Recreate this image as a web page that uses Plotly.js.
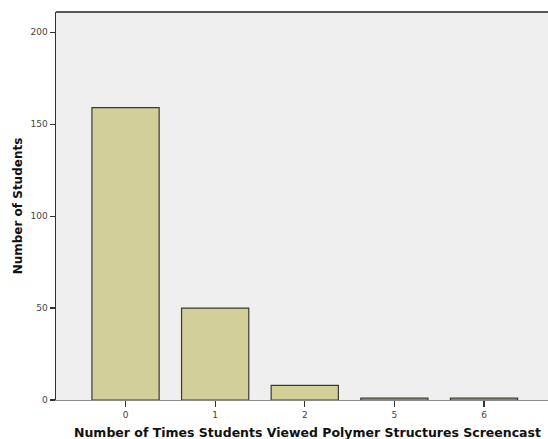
<!DOCTYPE html>
<html>
<head>
<meta charset="utf-8">
<script src="https://cdn.plot.ly/plotly-3.0.1.min.js"></script>
<style>html,body{margin:0;padding:0;background:#fff;}#chart{width:548px;height:439px;}</style>
</head>
<body>
<div id="chart"></div>
<script>
const categories = ["0", "1", "2", "5", "6"];
const counts = [159, 50, 8, 1, 1];
const yTicks = [0, 50, 100, 150, 200];
const xTitle = "Number of Times Students Viewed Polymer Structures Screencast";
const yTitle = "Number of Students";

const trace = {
  type: "bar",
  x: categories,
  y: counts,
  marker: {color: "#d3cf98", line: {color: "#3a3a3a", width: 1.2}},
  hoverinfo: "x+y"
};

const layout = {
  width: 548, height: 439,
  margin: {l: 56, r: 0, t: 12, b: 39, pad: 0},
  paper_bgcolor: "#ffffff",
  plot_bgcolor: "#efefef",
  bargap: 0.25,
  showlegend: false,
  font: {family: "DejaVu Sans, Verdana, sans-serif", color: "#333"},
  xaxis: {
    type: "category",
    range: [-0.776, 4.714],
    showgrid: false, zeroline: false,
    showline: true, linecolor: "#888", linewidth: 1,
    ticks: "outside", ticklen: 6, tickwidth: 1.2, tickcolor: "#333",
    tickfont: {size: 9, color: "#444"}
  },
  yaxis: {
    range: [0, 211],
    tickvals: yTicks,
    ticktext: yTicks.map(String),
    showgrid: false, zeroline: false,
    showline: true, linecolor: "#333", linewidth: 1.5,
    ticks: "outside", ticklen: 5, tickwidth: 1.2, tickcolor: "#333",
    tickfont: {size: 9, color: "#444"},
    title: {text: yTitle,
            font: {size: 12, color: "#111", family: "DejaVu Sans, Verdana, sans-serif", weight: "bold"},
            standoff: 5}
  },
  annotations: [{
    text: xTitle, xref: "paper", yref: "paper",
    x: 0.512, y: -0.0825, xanchor: "center", yanchor: "middle",
    showarrow: false,
    font: {size: 12.5, color: "#111", family: "DejaVu Sans, Verdana, sans-serif", weight: "bold"}
  }],
  shapes: [{
    type: "line", xref: "paper", yref: "paper",
    x0: 0, x1: 1, y0: 1, y1: 1,
    line: {color: "#222", width: 1.5}
  }]
};

Plotly.newPlot("chart", [trace], layout, {displayModeBar: false, staticPlot: true});
</script>
</body>
</html>
